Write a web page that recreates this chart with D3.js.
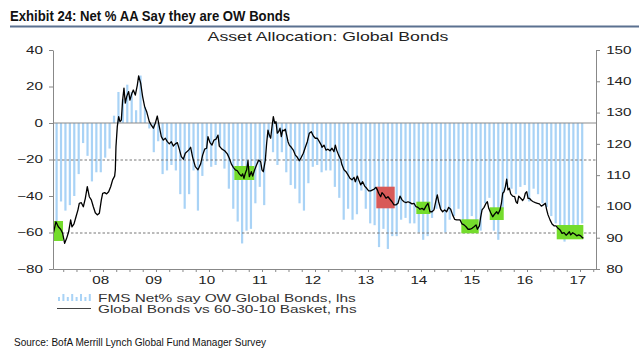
<!DOCTYPE html>
<html>
<head>
<meta charset="utf-8">
<script src="https://cdn.jsdelivr.net/npm/d3@7"></script>
<style>
	body { margin: 0; background: #fff; }
	svg { display: block; }
	text { font-family: 'Liberation Sans', Arial, sans-serif; fill: #222; }
</style>
</head>
<body>
<div id="container"></div>
<script>
// FMS net % saying they are OW global bonds (lhs), one bar a month from Aug 2007
const fmsStart = [2007, 8];
const fmsNet = [
	-54, -43, -48, -45, -40, -28, -11, -18, -32, -27, -27, -19, -14,
	4, 17, 13, 21, 17, 7, 26, 9, -3,
	-16, -10, -28, -26, -23, -26, -39, -47, -39, -26, -48, -29, -21, -24,
	-23, -13, -25, -36, -47, -54, -66, -59, -58, -44, -35, -45,
	-8, -16, -23, -16, -27, -34, -36, -44, -48, -33, -24, -23,
	-27, -26, -26, -35, -41, -53, -47, -53, -50, -37, -47, -55,
	-56, -68, -58, -69, -62, -62, -53, -52, -55, -55, -60, -64,
	-62, -52, -47, -47, -60, -53, -51, -47, -54, -57, -51, -55,
	-59, -44, -41, -59, -64, -47, -35, -36, -39, -35, -34, -43,
	-36, -39, -44, -46, -51, -55, -58, -65, -60, -58, -56, -55
];

// Global Bonds vs 60-30-10 basket (rhs): [year, index]
const bondRatio = [
	[2007.563, 91.4], [2007.613, 95.1], [2007.657, 93.5], [2007.701, 92.7], [2007.739, 91.4],
	[2007.777, 88.2], [2007.814, 89.8], [2007.852, 91.9], [2007.890, 95.7], [2007.915, 93.5],
	[2007.953, 94.4], [2007.991, 96.7], [2008.028, 98.9], [2008.053, 101.0], [2008.091, 101.2],
	[2008.129, 99.9], [2008.167, 102.6], [2008.204, 106.3], [2008.242, 103.1], [2008.280, 102.1],
	[2008.318, 99.9], [2008.355, 98.0], [2008.393, 97.3], [2008.431, 97.8], [2008.469, 102.1],
	[2008.494, 104.2], [2008.531, 104.4], [2008.569, 104.0], [2008.607, 104.7], [2008.645, 106.3],
	[2008.682, 108.5], [2008.720, 109.7], [2008.733, 111.7], [2008.745, 119.1], [2008.770, 125.5],
	[2008.796, 128.7], [2008.821, 127.1], [2008.846, 127.6], [2008.871, 134.0], [2008.896, 137.8],
	[2008.921, 133.0], [2008.947, 135.1], [2008.984, 136.7], [2009.009, 134.0], [2009.047, 136.2],
	[2009.072, 137.2], [2009.110, 135.6], [2009.148, 138.8], [2009.173, 141.7], [2009.211, 139.4],
	[2009.248, 135.1], [2009.286, 131.9], [2009.324, 130.3], [2009.349, 128.7], [2009.374, 127.1],
	[2009.412, 126.0], [2009.450, 125.0], [2009.487, 126.6], [2009.525, 128.9], [2009.563, 125.5],
	[2009.601, 122.3], [2009.638, 121.2], [2009.676, 121.8], [2009.714, 120.7], [2009.752, 120.0],
	[2009.789, 120.7], [2009.827, 119.3], [2009.865, 120.0], [2009.903, 120.4], [2009.940, 118.3],
	[2009.978, 115.9], [2010.016, 115.1], [2010.053, 117.0], [2010.116, 118.0], [2010.154, 118.9],
	[2010.192, 115.7], [2010.242, 112.7], [2010.292, 111.7], [2010.343, 113.6], [2010.380, 116.4],
	[2010.418, 118.3], [2010.456, 118.6], [2010.481, 122.3], [2010.519, 120.4], [2010.557, 119.6],
	[2010.594, 121.2], [2010.632, 121.5], [2010.670, 122.8], [2010.695, 119.3], [2010.745, 118.3],
	[2010.796, 117.8], [2010.846, 116.8], [2010.884, 115.4], [2010.921, 113.6], [2010.959, 112.5],
	[2010.997, 111.7], [2011.035, 111.4], [2011.072, 110.4], [2011.110, 109.7], [2011.135, 110.4],
	[2011.160, 109.0], [2011.185, 110.6], [2011.211, 111.7], [2011.236, 114.6], [2011.261, 109.5],
	[2011.299, 111.1], [2011.324, 109.7], [2011.362, 111.7], [2011.399, 113.3], [2011.437, 114.8],
	[2011.475, 114.3], [2011.500, 111.7], [2011.525, 111.1], [2011.563, 114.8], [2011.588, 120.2],
	[2011.613, 124.4], [2011.638, 122.8], [2011.664, 121.8], [2011.689, 125.5], [2011.714, 128.7],
	[2011.739, 126.6], [2011.764, 127.1], [2011.789, 123.4], [2011.814, 123.9], [2011.840, 125.0],
	[2011.865, 122.3], [2011.890, 124.4], [2011.915, 124.2], [2011.940, 124.7], [2011.965, 122.8],
	[2011.991, 120.7], [2012.016, 119.6], [2012.053, 118.9], [2012.091, 118.0], [2012.129, 116.4],
	[2012.167, 115.7], [2012.204, 114.6], [2012.242, 115.7], [2012.280, 117.0], [2012.318, 118.9],
	[2012.355, 120.7], [2012.393, 123.4], [2012.431, 123.9], [2012.469, 122.5], [2012.506, 121.8],
	[2012.544, 121.8], [2012.582, 120.7], [2012.619, 119.6], [2012.632, 118.9], [2012.670, 119.6],
	[2012.707, 118.0], [2012.745, 118.3], [2012.783, 117.8], [2012.821, 118.6], [2012.858, 117.5],
	[2012.884, 119.6], [2012.909, 118.0], [2012.946, 116.4], [2012.984, 115.1], [2013.009, 113.3],
	[2013.047, 111.7], [2013.085, 111.1], [2013.123, 110.1], [2013.160, 109.0], [2013.198, 108.5],
	[2013.236, 109.3], [2013.261, 107.9], [2013.299, 109.7], [2013.324, 108.5], [2013.362, 106.9],
	[2013.399, 107.9], [2013.437, 106.5], [2013.475, 105.8], [2013.513, 105.0], [2013.550, 105.0],
	[2013.588, 105.3], [2013.613, 105.5], [2013.651, 106.1], [2013.676, 105.3], [2013.701, 104.2],
	[2013.739, 103.1], [2013.764, 104.4], [2013.802, 103.7], [2013.840, 102.6], [2013.877, 103.1],
	[2013.915, 102.3], [2013.953, 101.5], [2013.991, 100.5], [2014.028, 100.5], [2014.066, 101.0],
	[2014.104, 103.3], [2014.142, 102.1], [2014.179, 101.5], [2014.217, 101.2], [2014.255, 101.5],
	[2014.292, 101.2], [2014.330, 100.8], [2014.368, 101.0], [2014.406, 99.9], [2014.443, 99.7],
	[2014.481, 99.1], [2014.519, 99.4], [2014.557, 98.9], [2014.594, 100.1], [2014.632, 101.0],
	[2014.670, 98.3], [2014.708, 98.3], [2014.745, 98.9], [2014.783, 101.9], [2014.808, 103.7],
	[2014.833, 101.5], [2014.871, 99.1], [2014.909, 98.3], [2014.946, 98.9], [2014.984, 98.3],
	[2015.022, 99.7], [2015.060, 99.1], [2015.097, 97.3], [2015.135, 95.9], [2015.173, 95.7],
	[2015.199, 95.7], [2015.237, 95.7], [2015.274, 94.4], [2015.312, 94.1], [2015.350, 93.5],
	[2015.388, 92.7], [2015.425, 92.7], [2015.463, 93.0], [2015.501, 93.5], [2015.539, 94.1],
	[2015.564, 92.7], [2015.602, 93.8], [2015.627, 96.7], [2015.652, 98.9], [2015.690, 99.7],
	[2015.727, 101.0], [2015.752, 101.5], [2015.778, 99.4], [2015.815, 98.0], [2015.853, 96.7],
	[2015.891, 97.6], [2015.929, 98.3], [2015.954, 97.6], [2015.991, 98.9], [2016.017, 101.0],
	[2016.042, 104.2], [2016.067, 104.7], [2016.092, 106.3], [2016.117, 108.7], [2016.142, 105.3],
	[2016.168, 105.8], [2016.193, 104.0], [2016.230, 103.3], [2016.268, 103.1], [2016.293, 101.5],
	[2016.318, 101.0], [2016.344, 103.3], [2016.381, 102.6], [2016.419, 101.9], [2016.444, 102.6],
	[2016.469, 104.2], [2016.495, 104.7], [2016.520, 102.6], [2016.545, 102.6], [2016.583, 101.9],
	[2016.620, 101.5], [2016.658, 101.2], [2016.696, 101.0], [2016.734, 100.8], [2016.771, 100.1],
	[2016.809, 100.5], [2016.847, 101.0], [2016.872, 98.9], [2016.897, 97.3], [2016.935, 95.7],
	[2016.973, 94.4], [2017.010, 93.8], [2017.048, 93.8], [2017.086, 93.0], [2017.124, 92.5],
	[2017.161, 91.4], [2017.199, 91.6], [2017.237, 90.8], [2017.262, 91.2], [2017.300, 91.9],
	[2017.325, 90.9], [2017.363, 91.6], [2017.400, 91.2], [2017.438, 90.6], [2017.476, 90.9],
	[2017.514, 90.6], [2017.539, 90.1], [2017.564, 89.8]
];

// highlighted episodes, in years and rhs units
const boxFrom = [2007.557, 2010.978, 2013.657, 2014.412, 2015.261, 2015.797, 2017.061];
const boxTo   = [2007.746, 2011.355, 2014.004, 2014.676, 2015.589, 2016.061, 2017.563];
const boxLow  = [88.95, 108.45, 99.4, 97.58, 91.41, 95.66, 89.49];
const boxHigh = [95.34, 112.92, 106.31, 101.51, 95.89, 99.72, 94.06];
const boxType = ['buy', 'buy', 'sell', 'buy', 'buy', 'buy', 'buy'];

const yearLabels = ['08', '09', '10', '11', '12', '13', '14', '15', '16', '17'];
const leftTicks = [-80, -60, -40, -20, 0, 20, 40];
const rightTicks = [80, 90, 100, 110, 120, 130, 140, 150];
const dashedLevels = [-20, -60];

const width = 639, height = 353;
const plot = { left: 53, right: 596, top: 50, bottom: 269 };
const wide = 1.45; // the chart's own text is stretched sideways

const svg = d3.select('#container')
	.append('svg')
	.attr('width', width)
	.attr('height', height);

const x = d3.scaleLinear().domain([2007.557, 2017.802]).range([plot.left, plot.right]);
const yL = d3.scaleLinear().domain([-80, 40]).range([plot.bottom, plot.top]);
const yR = d3.scaleLinear().domain([80, 150]).range([plot.bottom, plot.top]);

let barYear = (i) => fmsStart[0] + (fmsStart[1] - 1 + i + 0.5) / 12;

function wideText(sel, px, py, str, size, anchor) {
	return sel.append('text')
		.attr('transform', 'translate(' + px + ',' + py + ') scale(' + wide + ',1)')
		.attr('text-anchor', anchor || 'start')
		.attr('font-size', size)
		.text(str);
}

// header
svg.append('text')
	.attr('x', 10)
	.attr('y', 21)
	.attr('font-size', 14)
	.attr('font-weight', 'bold')
	.attr('textLength', 280)
	.attr('lengthAdjust', 'spacingAndGlyphs')
	.style('font-family', "'Liberation Sans Narrow', 'Arial Narrow', 'Liberation Sans', sans-serif")
	.style('fill', '#111')
	.text('Exhibit 24: Net % AA Say they are OW Bonds');
svg.append('line')
	.attr('x1', 10).attr('x2', width)
	.attr('y1', 26.5).attr('y2', 26.5)
	.attr('stroke', '#5b7190')
	.attr('stroke-width', 2);

wideText(svg, 328, 41, 'Asset Allocation: Global Bonds', 12.2, 'middle');

// bars
svg.append('g')
	.selectAll('rect')
	.data(fmsNet)
	.join('rect')
	.attr('x', (d, i) => x(barYear(i)) - 1.1)
	.attr('width', 2.2)
	.attr('y', (d) => yL(Math.max(0, d)))
	.attr('height', (d) => Math.abs(yL(d) - yL(0)))
	.attr('fill', '#a9d3f6');

// reference lines
svg.append('line')
	.attr('x1', plot.left).attr('x2', plot.right)
	.attr('y1', yL(0)).attr('y2', yL(0))
	.attr('stroke', '#8a8a8a');
svg.append('g')
	.selectAll('line')
	.data(dashedLevels)
	.join('line')
	.attr('x1', plot.left).attr('x2', plot.right)
	.attr('y1', (d) => yL(d) + 0.5).attr('y2', (d) => yL(d) + 0.5)
	.attr('stroke', '#777')
	.attr('stroke-dasharray', '2.5,2');

// highlighted boxes
svg.append('g')
	.selectAll('rect')
	.data(boxFrom)
	.join('rect')
	.attr('x', (d) => x(d))
	.attr('width', (d, i) => x(boxTo[i]) - x(d))
	.attr('y', (d, i) => yR(boxHigh[i]))
	.attr('height', (d, i) => yR(boxLow[i]) - yR(boxHigh[i]))
	.attr('fill', (d, i) => boxType[i] == 'sell' ? '#d85a58' : '#74dc2c');

// bonds vs basket
svg.append('path')
	.datum(bondRatio)
	.attr('fill', 'none')
	.attr('stroke', '#000')
	.attr('stroke-width', 1.3)
	.attr('stroke-linejoin', 'round')
	.attr('d', d3.line().x((d) => x(d[0])).y((d) => yR(d[1])));

// axes
function styleAxis(g) {
	g.select('.domain').attr('stroke', '#888');
	g.selectAll('.tick line').attr('stroke', '#888');
	g.selectAll('.tick text').style('fill', '#222');
}

let gl = svg.append('g')
	.attr('transform', 'translate(' + plot.left + ',0)')
	.call(d3.axisLeft(yL).tickValues(leftTicks).tickSize(4).tickSizeOuter(0).tickPadding(3))
	.call(styleAxis);
gl.selectAll('.tick text')
	.attr('font-size', 10.5)
	.attr('font-family', null)
	.attr('transform', 'scale(' + wide + ',1)');

let gr = svg.append('g')
	.attr('transform', 'translate(' + plot.right + ',0)')
	.call(d3.axisRight(yR).tickValues(rightTicks).tickSize(4).tickSizeOuter(0).tickPadding(3))
	.call(styleAxis);
gr.selectAll('.tick text')
	.attr('font-size', 10.5)
	.attr('font-family', null)
	.attr('transform', 'scale(' + wide + ',1)');

let quarters = d3.range(2007.75, 2017.8, 0.25);
svg.append('g')
	.attr('transform', 'translate(0,' + plot.bottom + ')')
	.call(d3.axisBottom(x).tickValues(quarters).tickSize(3).tickSizeOuter(0).tickFormat(''))
	.call(styleAxis);

// year labels sit a little before mid-year
let gx = svg.append('g')
	.attr('transform', 'translate(0,' + plot.bottom + ')')
	.call(d3.axisBottom(x)
		.tickValues(yearLabels.map((d, i) => 2008.45 + i))
		.tickSize(0)
		.tickPadding(8)
		.tickFormat((d, i) => yearLabels[i]));
gx.select('.domain').remove();
gx.selectAll('.tick text')
	.attr('font-size', 10.5)
	.attr('font-family', null)
	.style('fill', '#222')
	.attr('transform', 'scale(' + wide + ',1)');

// legend
let legend = svg.append('g');
legend.selectAll('rect')
	.data(d3.range(8))
	.join('rect')
	.attr('x', (d) => 58 + d * 4.4)
	.attr('width', 2)
	.attr('y', (d) => d % 2 ? 294 : 297)
	.attr('height', (d) => d % 2 ? 7 : 4)
	.attr('fill', '#a9d3f6');
legend.append('line')
	.attr('x1', 57).attr('x2', 91)
	.attr('y1', 308.5).attr('y2', 308.5)
	.attr('stroke', '#444');
wideText(legend, 98, 301.5, 'FMS Net% say OW Global Bonds, lhs', 10.6).style('fill', '#333');
wideText(legend, 98, 312.5, 'Global Bonds vs 60-30-10 Basket, rhs', 10.6).style('fill', '#333');

// source
svg.append('text')
	.attr('x', 14)
	.attr('y', 346)
	.attr('font-size', 11.5)
	.attr('textLength', 252)
	.attr('lengthAdjust', 'spacingAndGlyphs')
	.style('font-family', "'Liberation Sans Narrow', 'Arial Narrow', 'Liberation Sans', sans-serif")
	.style('fill', '#111')
	.text('Source: BofA Merrill Lynch Global Fund Manager Survey');
</script>
</body>
</html>
